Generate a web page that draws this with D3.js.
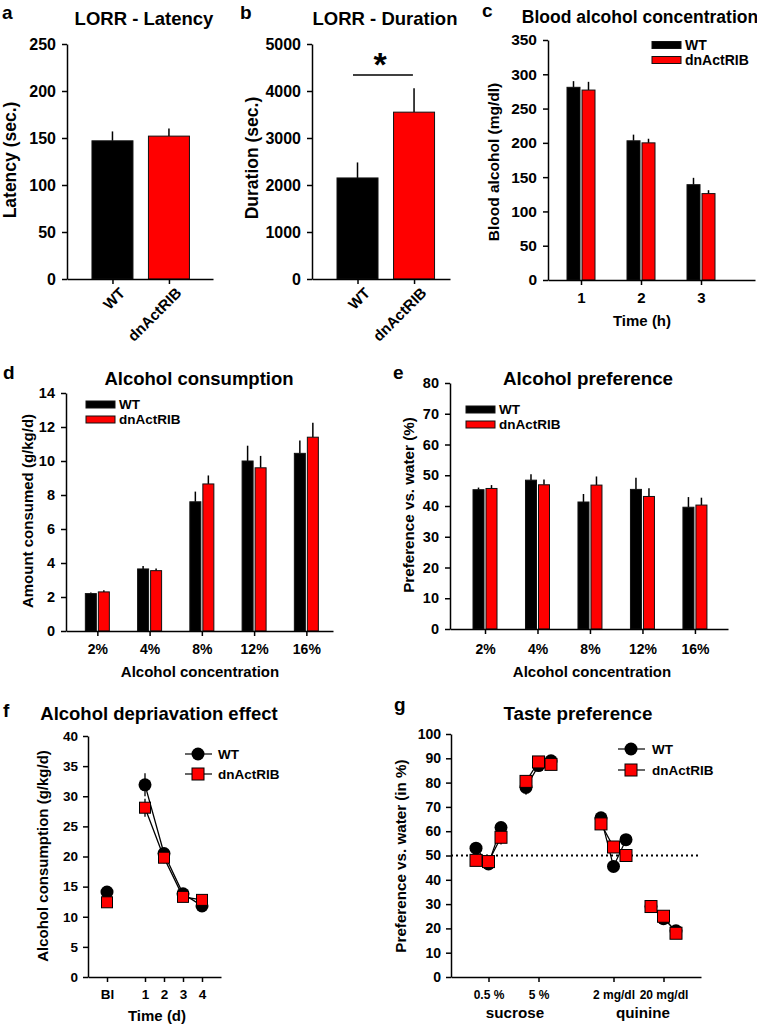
<!DOCTYPE html>
<html><head><meta charset="utf-8">
<script src="https://cdn.jsdelivr.net/npm/d3@7"></script>
<style>
body{margin:0;background:#fff}
svg text{font-family:"Liberation Sans",Arial,sans-serif;font-weight:bold;fill:#000}
</style></head>
<body><svg id="fig" width="757" height="1027"></svg>
<script>
// ---------------- DATA ----------------
const genotypes = ["WT", "dnActRIB"];
// a: LORR latency
const latencyMean = [147, 152];
const latencyErr = [10, 8];
const latencyTicks = [0, 50, 100, 150, 200, 250];
// b: LORR duration
const durationMean = [2150, 3550];
const durationErr = [330, 510];
const durationTicks = [0, 1000, 2000, 3000, 4000, 5000];
// c: blood alcohol
const bacTimes = ["1", "2", "3"];
const bacWT = [281, 203, 139];
const bacWTErr = [9, 9, 10];
const bacDn = [277, 200, 126];
const bacDnErr = [12, 6, 5];
const bacTicks = [0, 50, 100, 150, 200, 250, 300, 350];
// d: alcohol consumption
const concentrations = ["2%", "4%", "8%", "12%", "16%"];
const consWT = [2.2, 3.65, 7.6, 10.0, 10.45];
const consWTErr = [0.07, 0.17, 0.6, 0.9, 0.75];
const consDn = [2.3, 3.55, 8.65, 9.6, 11.4];
const consDnErr = [0.1, 0.13, 0.5, 0.7, 0.85];
const consTicks = [0, 2, 4, 6, 8, 10, 12, 14];
// e: alcohol preference
const prefWT = [45.3, 48.4, 41.3, 45.4, 39.6];
const prefWTErr = [0.7, 1.9, 2.6, 3.8, 3.3];
const prefDn = [45.7, 46.9, 46.8, 43.1, 40.3];
const prefDnErr = [1.1, 1.7, 2.8, 2.7, 2.4];
const prefTicks = [0, 10, 20, 30, 40, 50, 60, 70, 80];
// f: alcohol deprivation effect
const adeLabels = ["Bl", "1", "2", "3", "4"];
const adePos = [-1, 1, 2, 3, 4];
const adeWT = [14.1, 31.9, 20.5, 13.8, 11.8];
const adeWTErr = [0.9, 1.9, 0.9, 0.7, 0.6];
const adeDn = [12.4, 28.1, 19.8, 13.3, 12.8];
const adeDnErr = [0.8, 1.5, 0.9, 0.6, 0.7];
const adeTicks = [0, 5, 10, 15, 20, 25, 30, 35, 40];
// g: taste preference (three sessions per concentration)
const tastePos = [0, 1, 2, 4, 5, 6, 10, 11, 12, 14, 15, 16];
const tasteWT = [53, 46.5, 61.5, 78, 87, 89, 65.5, 45.5, 56.5, 29, 24, 19];
const tasteDn = [48, 47.5, 57.5, 80.5, 88.5, 87.5, 63, 53.5, 50, 29, 25, 18];
const tasteWTErr = [2, 2, 2, 3, 2, 1.5, 2, 2, 2, 2, 2, 1.5];
const tasteDnErr = [2, 2, 3, 2, 1.5, 1.5, 2, 2, 2, 2, 1.5, 1.5];
const tasteTickPos = [1, 5, 11, 15];
const tasteTickLabels = ["0.5 %", "5 %", "2 mg/dl", "20 mg/dl"];
const tasteGroups = ["sucrose", "quinine"];
const tasteTicks = [0, 10, 20, 30, 40, 50, 60, 70, 80, 90, 100];

// ---------------- HELPERS ----------------
const svg = d3.select("#fig");
const RED = "#ff0000";
const fmt = d3.format("d");

function txt(x, y, s, size, anchor = "middle") {
  return svg.append("text").attr("x", x).attr("y", y).attr("text-anchor", anchor)
    .style("font-size", size + "px").text(s);
}
function vtxt(cx, cy, s, size) {
  return svg.append("text").attr("transform", `translate(${cx},${cy}) rotate(-90)`)
    .attr("text-anchor", "middle").attr("dy", "0.35em").style("font-size", size + "px").text(s);
}
function styleAxis(sel, size) {
  sel.attr("font-family", null).attr("font-size", null);
  sel.selectAll("path,line").attr("stroke", "#000").attr("stroke-width", 1.5);
  sel.selectAll("text").style("font-size", size + "px").attr("fill", "#000");
}
function yAxis(y, x0, ticks, size, pad = 6) {
  svg.append("g").attr("transform", `translate(${x0},0)`)
    .call(d3.axisLeft(y).tickValues(ticks).tickFormat(fmt).tickSize(5).tickSizeOuter(0).tickPadding(pad))
    .call(s => styleAxis(s, size));
}
function xAxis(x, y0, vals, labels, size, pad = 6) {
  return svg.append("g").attr("transform", `translate(0,${y0})`)
    .call(d3.axisBottom(x).tickValues(vals).tickFormat((d, i) => labels ? labels[i] : d)
      .tickSize(5).tickSizeOuter(0).tickPadding(pad))
    .call(s => styleAxis(s, size));
}
function bar(x0, w, y, v, fill) {
  svg.append("rect").attr("x", x0).attr("width", w)
    .attr("y", y(v)).attr("height", y(0) - y(v))
    .attr("fill", fill).attr("stroke", "#111").attr("stroke-width", 1);
}
function errUp(cx, y, v, e) {
  svg.append("line").attr("x1", cx).attr("x2", cx).attr("y1", y(v)).attr("y2", y(v + e))
    .attr("stroke", "#000").attr("stroke-width", 1.5);
}
function barLegend(x, yTop, gap, size) {
  [["#000", genotypes[0]], [RED, genotypes[1]]].forEach((d, i) => {
    const yy = yTop + i * gap;
    svg.append("rect").attr("x", x).attr("y", yy).attr("width", 29).attr("height", 7)
      .attr("fill", d[0]).attr("stroke", "#111").attr("stroke-width", 1);
    txt(x + 33, yy + 3.5, d[1], size, "start").attr("dy", "0.36em");
  });
}

// ---------------- PANEL a ----------------
(function () {
  const x = d3.scaleLinear().domain([-0.805, 1.78]).range([67, 213]);
  const y = d3.scaleLinear().domain([0, 250]).range([279, 44]);
  [latencyMean[0], latencyMean[1]].forEach((v, i) => {
    errUp(x(i), y, v, latencyErr[i]);
    bar(x(i) - 20.5, 41, y, v, i ? RED : "#000");
  });
  yAxis(y, 67, latencyTicks, 16);
  const ax = xAxis(x, 279, [0, 1], genotypes, 15);
  ax.selectAll("text").attr("text-anchor", "end").attr("dy", "0.35em")
    .attr("transform", "translate(5,7) rotate(-45)").attr("y", 6).attr("x", 0);
  txt(2, 19, "a", 19, "start");
  txt(144, 25, "LORR - Latency", 18.5);
  vtxt(10, 160, "Latency (sec.)", 17.5);
})();

// ---------------- PANEL b ----------------
(function () {
  const x = d3.scaleLinear().domain([-0.805, 1.636]).range([312, 450]);
  const y = d3.scaleLinear().domain([0, 5000]).range([279, 44]);
  [durationMean[0], durationMean[1]].forEach((v, i) => {
    errUp(x(i), y, v, durationErr[i]);
    bar(x(i) - 20.5, 41, y, v, i ? RED : "#000");
  });
  yAxis(y, 312, durationTicks, 16);
  const ax = xAxis(x, 279, [0, 1], genotypes, 15);
  ax.selectAll("text").attr("text-anchor", "end").attr("dy", "0.35em")
    .attr("transform", "translate(5,7) rotate(-45)").attr("y", 6).attr("x", 0);
  svg.append("line").attr("x1", x(-0.08)).attr("x2", x(0.98)).attr("y1", 75).attr("y2", 75)
    .attr("stroke", "#000").attr("stroke-width", 1.5);
  txt(x(0.4), 76, "*", 34);
  txt(240, 19, "b", 19, "start");
  txt(385, 25, "LORR - Duration", 18.5);
  vtxt(252, 158, "Duration (sec.)", 17.5);
})();

// ---------------- PANEL c ----------------
(function () {
  const x = d3.scaleLinear().domain([0.45, 3.9]).range([548, 755]);
  const y = d3.scaleLinear().domain([0, 350]).range([280, 40]);
  bacTimes.forEach((t, i) => {
    const c = x(i + 1);
    errUp(c - 7.5, y, bacWT[i], bacWTErr[i]);
    errUp(c + 7.5, y, bacDn[i], bacDnErr[i]);
    bar(c - 14, 13, y, bacWT[i], "#000");
    bar(c + 1, 13, y, bacDn[i], RED);
  });
  yAxis(y, 548, bacTicks, 15.5);
  xAxis(x, 280, [1, 2, 3], bacTimes, 15, 7);
  barLegend(652, 41.5, 15, 14);
  txt(482, 17, "c", 19, "start");
  txt(640, 23, "Blood alcohol concentration", 17.5);
  vtxt(494, 162, "Blood alcohol (mg/dl)", 15.5);
  txt(642, 326, "Time (h)", 15);
})();

// ---------------- PANEL d ----------------
(function () {
  const x = d3.scaleLinear().domain([-0.6, 4.51]).range([66, 333]);
  const y = d3.scaleLinear().domain([0, 14]).range([631, 393]);
  concentrations.forEach((c0, i) => {
    const c = x(i);
    errUp(c - 6.5, y, consWT[i], consWTErr[i]);
    errUp(c + 6.5, y, consDn[i], consDnErr[i]);
    bar(c - 12, 11, y, consWT[i], "#000");
    bar(c + 1, 11, y, consDn[i], RED);
  });
  yAxis(y, 66, consTicks, 14.5);
  xAxis(x, 631, d3.range(5), concentrations, 14, 8);
  barLegend(86, 401, 15, 13.5);
  txt(3, 379, "d", 19, "start");
  txt(199, 385, "Alcohol consumption", 18.5);
  vtxt(28, 511, "Amount consumed (g/kg/d)", 15);
  txt(200, 677, "Alcohol concentration", 15);
})();

// ---------------- PANEL e ----------------
(function () {
  const x = d3.scaleLinear().domain([-0.667, 4.63]).range([450, 728]);
  const y = d3.scaleLinear().domain([0, 80]).range([629, 383]);
  concentrations.forEach((c0, i) => {
    const c = x(i);
    errUp(c - 6.5, y, prefWT[i], prefWTErr[i]);
    errUp(c + 6.5, y, prefDn[i], prefDnErr[i]);
    bar(c - 12, 11, y, prefWT[i], "#000");
    bar(c + 1, 11, y, prefDn[i], RED);
  });
  yAxis(y, 450, prefTicks, 14.5);
  xAxis(x, 629, d3.range(5), concentrations, 14, 10);
  barLegend(466, 406, 15, 13.5);
  txt(393, 379, "e", 19, "start");
  txt(588, 385, "Alcohol preference", 18.8);
  vtxt(409, 505, "Preference vs. water (%)", 15.2);
  txt(592, 677, "Alcohol concentration", 15);
})();

// ---------------- PANEL f ----------------
(function () {
  const x = d3.scaleLinear().domain([-2, 5]).range([88, 221]);
  const y = d3.scaleLinear().domain([0, 40]).range([977, 736]);
  const line = d3.line().x(d => x(d[0])).y(d => y(d[1]));
  [[adeWT, adeWTErr], [adeDn, adeDnErr]].forEach(([v, e]) => {
    adePos.forEach((p, i) => {
      svg.append("line").attr("x1", x(p)).attr("x2", x(p)).attr("y1", y(v[i] - e[i])).attr("y2", y(v[i] + e[i]))
        .attr("stroke", "#000").attr("stroke-width", 1.3);
    });
  });
  [adeWT, adeDn].forEach(v => {
    svg.append("path").attr("d", line(adePos.slice(1).map((p, i) => [p, v[i + 1]])))
      .attr("fill", "none").attr("stroke", "#000").attr("stroke-width", 1.3);
  });
  adePos.forEach((p, i) => {
    svg.append("circle").attr("cx", x(p)).attr("cy", y(adeWT[i])).attr("r", 6.5).attr("fill", "#000");
  });
  adePos.forEach((p, i) => {
    svg.append("rect").attr("x", x(p) - 5.5).attr("y", y(adeDn[i]) - 5.5).attr("width", 11).attr("height", 11)
      .attr("fill", RED).attr("stroke", "#000").attr("stroke-width", 1);
  });
  yAxis(y, 88, adeTicks, 13.5, 5);
  xAxis(x, 977, adePos, adeLabels, 13.5, 7);
  svg.append("line").attr("x1", 185).attr("x2", 212).attr("y1", 754).attr("y2", 754).attr("stroke", "#000").attr("stroke-width", 1.2);
  svg.append("circle").attr("cx", 198).attr("cy", 754).attr("r", 6.5).attr("fill", "#000");
  txt(218, 754, genotypes[0], 13.5, "start").attr("dy", "0.36em");
  svg.append("line").attr("x1", 185).attr("x2", 212).attr("y1", 774).attr("y2", 774).attr("stroke", "#000").attr("stroke-width", 1.2);
  svg.append("rect").attr("x", 198 - 6).attr("y", 774 - 6).attr("width", 12).attr("height", 12)
    .attr("fill", RED).attr("stroke", "#000").attr("stroke-width", 1);
  txt(218, 774, genotypes[1], 13.5, "start").attr("dy", "0.36em");
  txt(3, 717, "f", 19, "start");
  txt(159, 720, "Alcohol depriavation effect", 18.5);
  vtxt(43, 856, "Alcohol consumption (g/kg/d)", 15);
  txt(157, 1021, "Time (d)", 15);
})();

// ---------------- PANEL g ----------------
(function () {
  const x = d3.scaleLinear().domain([-2, 18]).range([451, 701]);
  const y = d3.scaleLinear().domain([0, 100]).range([977, 734]);
  const line = d3.line().x(d => x(d[0])).y(d => y(d[1]));
  svg.append("line").attr("x1", x(-2)).attr("x2", x(18)).attr("y1", y(50)).attr("y2", y(50))
    .attr("stroke", "#000").attr("stroke-width", 2).attr("stroke-dasharray", "2,3");
  [[tasteWT, tasteWTErr], [tasteDn, tasteDnErr]].forEach(([v, e]) => {
    tastePos.forEach((p, i) => {
      svg.append("line").attr("x1", x(p)).attr("x2", x(p)).attr("y1", y(v[i] - e[i])).attr("y2", y(v[i] + e[i]))
        .attr("stroke", "#000").attr("stroke-width", 1.2);
    });
  });
  [tasteWT, tasteDn].forEach(v => {
    for (let g = 0; g < 4; g++) {
      const seg = [0, 1, 2].map(k => [tastePos[g * 3 + k], v[g * 3 + k]]);
      svg.append("path").attr("d", line(seg)).attr("fill", "none").attr("stroke", "#000").attr("stroke-width", 1.2);
    }
  });
  tastePos.forEach((p, i) => {
    svg.append("circle").attr("cx", x(p)).attr("cy", y(tasteWT[i])).attr("r", 6.5).attr("fill", "#000");
  });
  tastePos.forEach((p, i) => {
    svg.append("rect").attr("x", x(p) - 6).attr("y", y(tasteDn[i]) - 6).attr("width", 12).attr("height", 12)
      .attr("fill", RED).attr("stroke", "#000").attr("stroke-width", 1);
  });
  yAxis(y, 451, tasteTicks, 14, 5);
  xAxis(x, 977, tasteTickPos, tasteTickLabels, 12, 8);
  txt(515, 1018, tasteGroups[0], 15.2);
  txt(643, 1018, tasteGroups[1], 15.2);
  svg.append("line").attr("x1", 618).attr("x2", 645).attr("y1", 749).attr("y2", 749).attr("stroke", "#000").attr("stroke-width", 1.2);
  svg.append("circle").attr("cx", 631).attr("cy", 749).attr("r", 6.5).attr("fill", "#000");
  txt(652, 749, genotypes[0], 13.5, "start").attr("dy", "0.36em");
  svg.append("line").attr("x1", 618).attr("x2", 645).attr("y1", 770).attr("y2", 770).attr("stroke", "#000").attr("stroke-width", 1.2);
  svg.append("rect").attr("x", 631 - 6).attr("y", 770 - 6).attr("width", 12).attr("height", 12)
    .attr("fill", RED).attr("stroke", "#000").attr("stroke-width", 1);
  txt(652, 770, genotypes[1], 13.5, "start").attr("dy", "0.36em");
  txt(394, 711, "g", 19, "start");
  txt(578, 720, "Taste preference", 18.8);
  vtxt(401, 856, "Preference vs. water (in %)", 15.2);
})();
</script></body></html>
